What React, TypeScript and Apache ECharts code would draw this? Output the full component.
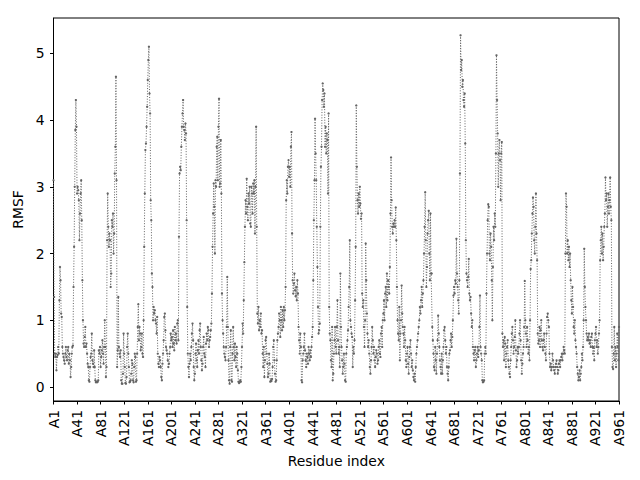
import { useEffect, useRef } from "react";
import * as echarts from "echarts";

// RMSF per residue (A1 ... A961)
const rmsf: number[] = [
  // 0
  3.1, 1.35, 0.5, 0.45, 0.5, 0.25, 0.45, 0.48, 0.6, 0.5,
  1.3, 1.8, 1.6, 1.1, 1.05, 0.6, 0.5, 0.45, 0.4, 0.35,
  0.5, 0.6, 0.45, 0.4, 0.55, 0.6, 0.35, 0.5, 0.4, 0.15,
  0.3, 0.5, 0.6, 0.62, 1.5, 2.1, 3.0, 3.85, 4.3, 3.9,
  2.9, 3.0, 2.95, 2.8, 2.2, 2.6, 2.9, 3.1, 2.5, 1.6,
  1.0, 0.65, 0.6, 0.75, 0.9, 0.6, 0.65, 0.5, 0.35, 0.3,
  0.1, 0.08, 0.3, 0.45, 0.5, 0.8, 0.4, 0.35, 0.3, 0.55,
  0.3, 0.1, 0.07, 0.08, 0.07, 0.08, 0.1, 0.55, 0.5, 0.6,
  0.3, 0.45, 0.55, 0.7, 0.5, 0.35, 0.6, 1.0, 0.6, 0.15,
  0.3, 2.2, 2.9, 2.4, 2.1, 2.3, 2.2, 1.5, 1.7, 2.5,
  // 100
  2.4, 2.6, 2.0, 2.3, 3.2, 3.6, 4.65, 3.1, 0.3, 0.55,
  1.35, 0.6, 0.5, 0.45, 0.55, 0.1, 0.05, 0.05, 0.2, 0.8,
  0.5, 0.3, 0.06, 0.05, 0.15, 0.6, 0.8, 0.5, 0.3, 0.07,
  0.08, 0.1, 0.2, 0.4, 0.35, 0.1, 0.07, 0.3, 0.5, 0.45,
  0.08, 0.1, 0.5, 0.9, 1.24, 0.7, 0.9, 0.8, 0.55, 0.6,
  0.8, 0.5, 0.45, 1.0, 2.1, 2.9, 3.55, 3.65, 3.9, 4.2,
  4.6, 4.9, 5.1, 4.4, 4.1, 2.8, 2.5, 1.7, 1.5, 1.0,
  1.2, 1.1, 1.15, 1.0, 0.95, 0.8, 1.05, 0.5, 0.35, 0.3,
  0.45, 0.4, 0.3, 0.15, 0.1, 0.35, 0.5, 0.7, 1.05, 1.1,
  0.85, 0.6, 0.55, 0.5, 0.4, 0.3, 0.35, 0.5, 0.6, 0.8,
  // 200
  0.7, 0.75, 0.6, 0.85, 0.65, 0.55, 0.9, 0.7, 0.8, 0.65,
  0.95, 1.0, 0.7, 2.25, 3.2, 3.3, 3.25, 3.6, 3.9, 4.1,
  4.3, 3.9, 3.85, 3.7, 3.95, 3.8, 2.5, 1.2, 0.5, 0.3,
  0.15, 0.35, 0.5, 0.4, 0.6, 0.8, 0.95, 0.7, 0.3, 0.1,
  0.2, 0.5, 0.65, 0.4, 0.3, 0.55, 0.7, 0.5, 0.85, 0.95,
  0.6, 0.4, 0.25, 0.35, 0.6, 0.75, 0.5, 0.45, 0.3, 0.65,
  0.8, 0.7, 0.9, 0.85, 0.6, 0.7, 0.75, 0.85, 0.95, 1.4,
  2.1, 2.6, 3.05, 2.7, 2.0, 3.1, 3.0, 3.6, 3.75, 3.1,
  3.9, 4.32, 3.0, 3.05, 3.7, 2.9, 1.4, 1.0, 0.8, 0.6,
  0.5, 0.45, 0.4, 0.6, 0.9, 1.65, 0.9, 0.4, 0.1, 0.05,
  // 300
  0.6, 0.85, 0.1, 0.08, 0.5, 0.9, 0.6, 0.4, 0.65, 0.45,
  0.3, 0.6, 0.5, 0.25, 0.08, 0.06, 0.07, 0.1, 0.08, 0.3,
  0.6, 0.95, 0.8, 1.3, 1.87, 2.4, 2.8, 2.6, 3.12, 2.7,
  2.5, 2.9, 2.75, 3.0, 2.45, 2.4, 3.0, 2.9, 2.6, 3.05,
  2.9, 3.1, 2.3, 3.0, 3.9, 2.4, 1.1, 0.95, 1.2, 0.85,
  1.0, 0.9, 1.1, 0.8, 0.85, 0.5, 0.3, 0.6, 0.15, 0.4,
  0.7, 0.75, 0.5, 0.35, 0.15, 0.2, 0.5, 0.35, 0.08, 0.1,
  0.09, 0.12, 0.3, 0.6, 0.7, 0.4, 0.2, 0.08, 0.1, 0.4,
  0.7, 0.8, 0.9, 1.1, 1.0, 0.75, 1.2, 1.0, 0.85, 1.15,
  0.9, 1.2, 1.0, 1.15, 1.5, 2.8, 3.1, 2.9, 3.3, 3.4,
  // 400
  3.15, 3.3, 3.0, 3.6, 3.82, 2.3, 1.6, 1.4, 1.55, 1.7,
  1.45, 1.36, 1.5, 1.3, 1.6, 1.4, 0.9, 0.7, 0.5, 0.8,
  0.6, 0.1, 0.07, 0.4, 0.5, 0.6, 0.8, 0.55, 0.4, 0.3,
  0.5, 0.45, 0.35, 0.6, 0.5, 0.4, 0.55, 0.45, 0.6, 0.75,
  0.9, 1.6, 2.5, 3.1, 4.02, 3.5, 3.1, 2.4, 1.8, 1.2,
  0.8, 0.85, 0.95, 2.4, 3.3, 3.6, 4.3, 4.55, 4.45, 4.2,
  4.4, 3.6, 3.9, 3.5, 3.8, 3.7, 2.9, 4.1, 1.2, 0.8,
  0.7, 0.4, 0.3, 0.9, 0.1, 0.2, 0.5, 0.7, 0.9, 0.6,
  0.5, 0.9, 1.3, 0.7, 0.5, 0.6, 0.3, 1.7, 0.9, 0.6,
  0.4, 0.2, 0.3, 0.5, 0.35, 0.1, 0.08, 0.5, 0.6, 0.7,
  // 500
  0.85, 1.2, 1.5, 2.2, 1.0, 0.9, 0.8, 0.75, 0.3, 0.6,
  0.5, 0.7, 1.3, 2.1, 4.22, 3.3, 2.8, 2.6, 2.9, 2.7,
  3.0, 2.75, 2.52, 2.6, 1.4, 1.2, 1.3, 0.9, 0.6, 1.0,
  2.15, 1.6, 1.1, 0.8, 0.6, 0.7, 0.5, 0.3, 0.2, 0.4,
  0.6, 0.9, 0.7, 0.5, 0.6, 0.4, 0.3, 0.45, 0.55, 0.5,
  0.35, 0.4, 0.6, 0.7, 0.5, 0.45, 0.8, 0.9, 0.6, 1.0,
  1.1, 1.3, 1.0, 1.4, 1.5, 1.2, 1.7, 1.3, 1.6, 1.5,
  1.4, 1.8, 2.6, 3.44, 2.8, 2.4, 2.3, 2.45, 2.4, 2.5,
  2.4, 2.69, 2.2, 1.5, 1.0, 0.8, 0.7, 1.2, 0.4, 0.8,
  1.0, 1.52, 1.1, 0.9, 0.8, 0.6, 0.9, 0.7, 0.4, 0.3,
  // 600
  0.5, 0.6, 0.35, 0.2, 0.45, 0.6, 0.7, 0.5, 0.3, 0.4,
  0.25, 0.15, 0.1, 0.2, 0.08, 0.3, 0.5, 0.6, 0.7, 0.8,
  0.9, 1.0, 1.2, 1.1, 1.3, 1.5, 1.2, 1.4, 1.6, 2.0,
  2.4, 2.92, 2.2, 1.5, 1.8, 2.3, 2.5, 2.64, 2.0, 1.6,
  2.6, 1.7, 1.7, 0.9, 0.7, 0.5, 0.3, 0.25, 0.6, 0.4,
  0.2, 0.5, 0.7, 1.07, 0.8, 0.6, 0.4, 0.3, 0.2, 0.5,
  0.2, 0.4, 0.6, 0.85, 0.9, 0.7, 0.5, 0.6, 0.3, 0.2,
  0.1, 0.3, 0.5, 0.55, 0.7, 0.8, 0.6, 0.75, 1.0, 1.37,
  1.5, 1.4, 1.6, 1.55, 2.22, 1.7, 1.5, 1.3, 1.1, 1.6,
  3.2, 5.27, 4.75, 4.9, 4.5, 4.6, 4.3, 4.2, 4.4, 3.65,
  // 700
  2.2, 1.7, 1.6, 1.5, 1.65, 1.92, 1.4, 1.3, 1.35, 1.1,
  0.9, 1.0, 0.6, 0.5, 0.4, 0.55, 0.6, 0.3, 0.4, 0.5,
  0.6, 0.45, 0.55, 0.9, 1.37, 0.6, 0.5, 0.4, 0.1, 0.07,
  0.08, 0.1, 0.5, 0.6, 0.5, 1.4, 2.0, 2.5, 2.74, 2.7,
  2.0, 1.9, 2.3, 2.1, 1.6, 1.0, 1.8, 2.4, 2.2, 2.6,
  2.4, 3.5, 4.97, 4.3, 3.8, 3.0, 3.5, 3.7, 3.4, 2.8,
  3.5, 3.67, 0.8, 0.6, 0.7, 0.4, 0.75, 0.65, 0.3, 0.5,
  0.6, 0.7, 0.4, 0.3, 0.2, 0.15, 0.4, 0.6, 0.8, 0.9,
  0.7, 0.5, 0.6, 0.75, 1.0, 0.55, 0.3, 0.4, 0.6, 0.5,
  0.6, 0.8, 1.0, 0.7, 0.4, 0.2, 0.35, 0.5, 0.6, 0.9,
  // 800
  1.59, 1.0, 0.8, 0.6, 0.9, 0.7, 0.5, 0.6, 0.4, 1.0,
  1.77, 1.9, 2.3, 2.6, 2.84, 2.7, 2.2, 2.0, 2.4, 2.9,
  2.3, 1.9, 0.8, 0.65, 0.7, 0.9, 0.6, 0.85, 1.0, 0.7,
  0.6, 0.55, 0.7, 0.8, 0.6, 0.5, 0.4, 0.8, 1.05, 1.1,
  1.0, 0.9, 0.5, 0.3, 0.35, 0.25, 0.3, 0.5, 0.4, 0.3,
  0.25, 0.2, 0.3, 0.35, 0.4, 0.3, 0.2, 0.25, 0.35, 0.4,
  0.3, 0.4, 0.45, 0.5, 0.4, 0.5, 0.6, 0.55, 0.5, 2.0,
  2.9, 2.7, 2.0, 2.2, 1.9, 2.1, 1.8, 2.0, 1.6, 1.3,
  1.1, 1.5, 1.2, 0.9, 0.8, 1.0, 0.7, 0.6, 0.5, 0.3,
  0.2, 0.1, 0.15, 0.25, 0.1, 0.2, 0.3, 0.5, 0.4, 0.6,
  // 900
  1.0, 2.07, 1.5, 1.2, 1.0, 0.8, 0.7, 0.75, 0.7, 0.8,
  0.65, 0.7, 0.6, 0.75, 0.8, 0.6, 0.5, 0.6, 0.4, 0.7,
  0.8, 0.9, 0.6, 0.7, 0.5, 0.6, 0.8, 1.0, 1.9, 2.2,
  2.4, 2.0, 2.3, 1.9, 2.1, 2.4, 2.6, 3.14, 2.8, 2.9,
  2.4, 2.7, 2.9, 2.6, 2.8, 3.14, 2.7, 2.5, 0.6, 0.3,
  0.27, 0.5, 0.9, 0.4, 0.6, 0.3, 0.5, 0.8, 0.6, 0.4, 0.9,
];

const residuePrefix = "A";
const xTickStep = 40;
const yTickValues = [0, 1, 2, 3, 4, 5];
const xAxisTitle = "Residue index";
const yAxisTitle = "RMSF";

const FONT = "DejaVu Sans";
const FS = 13.9;
const INK = "#646464";

export default function App() {
  const ref = useRef<HTMLDivElement>(null);

  useEffect(() => {
    if (!ref.current) return;
    const chart = echarts.init(ref.current, null, { renderer: "svg" });
    const points = rmsf.map((v, i) => [i, v]);
    chart.setOption({
      animation: false,
      backgroundColor: "#ffffff",
      grid: {
        left: 53.5,
        right: 21,
        top: 18,
        bottom: 79,
        show: true,
        borderColor: "#000",
        borderWidth: 1,
        backgroundColor: "transparent",
      },
      xAxis: {
        type: "value",
        min: 0,
        max: rmsf.length - 1,
        interval: xTickStep,
        splitLine: { show: false },
        axisLine: { show: true, onZero: false, lineStyle: { color: "#000", width: 1 } },
        axisTick: { show: true, length: 3.5, lineStyle: { color: "#000", width: 1 } },
        axisLabel: {
          rotate: 90,
          margin: 9,
          color: "#000",
          fontFamily: FONT,
          fontSize: FS,
          formatter: (v: number) => residuePrefix + (v + 1),
        },
        name: xAxisTitle,
        nameLocation: "middle",
        nameGap: 45,
        nameTextStyle: { color: "#000", fontFamily: FONT, fontSize: FS },
      },
      yAxis: {
        type: "value",
        min: -0.21,
        max: 5.53,
        splitLine: { show: false },
        axisLine: { show: true, onZero: false, lineStyle: { color: "#000", width: 1 } },
        axisTick: {
          show: true,
          length: 3.5,
          customValues: yTickValues,
          lineStyle: { color: "#000", width: 1 },
        },
        axisLabel: {
          margin: 9,
          color: "#000",
          fontFamily: FONT,
          fontSize: FS,
          customValues: yTickValues,
          formatter: (v: number) => String(v),
        },
        name: yAxisTitle,
        nameLocation: "middle",
        nameGap: 23,
        nameTextStyle: { color: "#000", fontFamily: FONT, fontSize: FS },
      },
      series: [
        {
          type: "line",
          data: points,
          symbol: "circle",
          symbolSize: 2.3,
          showSymbol: true,
          showAllSymbol: true,
          itemStyle: { color: INK },
          lineStyle: { color: INK, width: 1, type: [1, 1.65] },
          emphasis: { disabled: true },
          silent: true,
        },
      ],
    });
    return () => chart.dispose();
  }, []);

  return (
    <div
      ref={ref}
      style={{ position: "fixed", left: 0, top: 0, width: 640, height: 480 }}
    />
  );
}
